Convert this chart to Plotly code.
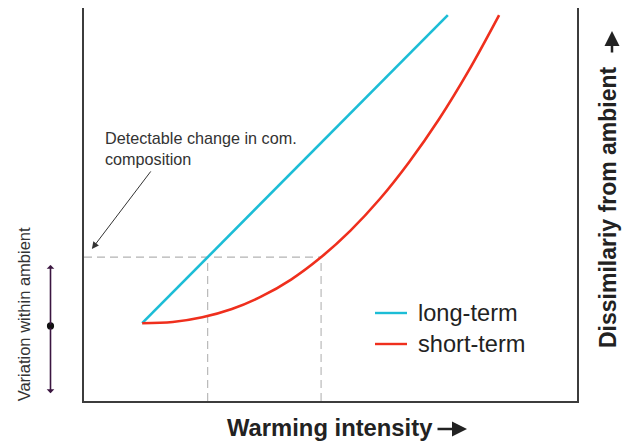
import numpy as np
import plotly.graph_objects as go

# ---- data (arbitrary units) ----
long_x = [11.8, 73.8]
long_y = [19.8, 98.2]

short_x = [11.8, 18, 24, 30, 36, 42, 48, 54, 60, 66, 72, 78, 84.2]
short_y = [19.8, 20.1, 21.3, 23.4, 26.6, 30.9, 36.5, 43.3, 51.4, 60.9, 71.7, 84.0, 98.2]

threshold = 36.6          # detectable change level
ambient_low, ambient_mid, ambient_high = 2.0, 19.1, 34.6

series_names = ["long-term", "short-term"]
colors = ["#1cbdd6", "#ef2f1d"]

# crossings of the threshold
x_long_cross = float(np.interp(threshold, long_y, long_x))
x_short_cross = float(np.interp(threshold, short_y, short_x))

FONT = "Liberation Sans, Arial, sans-serif"

fig = go.Figure()
fig.add_trace(go.Scatter(x=long_x, y=long_y, mode="lines", name=series_names[0],
                         line=dict(color=colors[0], width=2.6)))
fig.add_trace(go.Scatter(x=short_x, y=short_y, mode="lines", name=series_names[1],
                         line=dict(color=colors[1], width=2.6, shape="spline", smoothing=1.0)))

dash = dict(color="#b3b3b3", width=1.1, dash="8px,5px")
fig.add_shape(type="line", x0=0, x1=x_short_cross, y0=threshold, y1=threshold, line=dash, layer="below")
fig.add_shape(type="line", x0=x_long_cross, x1=x_long_cross, y0=0, y1=threshold, line=dash, layer="below")
fig.add_shape(type="line", x0=x_short_cross, x1=x_short_cross, y0=0, y1=threshold, line=dash, layer="below")

# ambient variation bar (left of the plot, paper x)
bar_x = (50.5 - 84) / 493
dot_r_px = 3.6
fig.add_shape(type="circle", xref="paper", yref="y",
              x0=bar_x - dot_r_px / 493, x1=bar_x + dot_r_px / 493,
              y0=ambient_mid - dot_r_px / 3.93, y1=ambient_mid + dot_r_px / 3.93,
              fillcolor="#111111", line=dict(width=0))

ann = []

# legend drawn by hand (line samples + labels)
leg_rows_px = [313, 344]
for name, col, ypx in zip(series_names, colors, leg_rows_px):
    yp = (401 - ypx) / 393
    fig.add_shape(type="line", xref="paper", yref="paper",
                  x0=(375 - 84) / 493, x1=(407 - 84) / 493, y0=yp, y1=yp,
                  line=dict(color=col, width=2.4))
    ann.append(dict(x=(416 - 84) / 493, y=yp, xref="paper", yref="paper", xanchor="left",
                    yanchor="middle", text=name, showarrow=False,
                    font=dict(family=FONT, size=23.6, color="#222222")))

# detectable change annotation
ann.append(dict(x=3.9, y=69.7, xref="x", yref="y", xanchor="left", yanchor="top", align="left",
                text="Detectable change in com.<br>composition", showarrow=False,
                font=dict(family=FONT, size=16.2, color="#333333")))
ann.append(dict(x=1.6, y=38.7, xref="x", yref="y", text="", showarrow=True, ax=60, ay=-79,
                arrowhead=2, arrowsize=1.4, arrowwidth=1, arrowcolor="#333333"))
# ambient variation arrows
ann.append(dict(x=bar_x, y=ambient_high, xref="paper", yref="y", text="", showarrow=True, ax=0, ay=61,
                arrowhead=1, arrowsize=0.8, arrowwidth=1.6, arrowcolor="#3b1640"))
ann.append(dict(x=bar_x, y=ambient_low, xref="paper", yref="y", text="", showarrow=True, ax=0, ay=-67,
                arrowhead=1, arrowsize=0.8, arrowwidth=1.6, arrowcolor="#3b1640"))
ann.append(dict(x=-0.122, y=(401 - 314.5) / 393, xref="paper", yref="paper", text="Variation within ambient",
                textangle=-90, showarrow=False, xanchor="center", yanchor="middle",
                font=dict(family=FONT, size=16.5, color="#333333")))
# x title
ann.append(dict(x=(225 - 84) / 493, y=(401 - 427) / 393, xref="paper", yref="paper", xanchor="left",
                yanchor="middle", text="<b>Warming intensity</b>", showarrow=False,
                font=dict(family=FONT, size=23.8, color="#222222")))
ann.append(dict(x=(467 - 84) / 493, y=(401 - 429) / 393, xref="paper", yref="paper", text="",
                showarrow=True, ax=-31, ay=0, arrowhead=2, arrowsize=1.2, arrowwidth=2.5,
                arrowcolor="#222222"))
# right title
ann.append(dict(x=(608 - 84) / 493, y=(401 - 207) / 393, xref="paper", yref="paper", xanchor="center",
                yanchor="middle", text="<b>Dissimilariy from ambient</b>", textangle=-90, showarrow=False,
                font=dict(family=FONT, size=23, color="#222222")))
ann.append(dict(x=(612 - 84) / 493, y=(401 - 31) / 393, xref="paper", yref="paper", text="",
                showarrow=True, ax=0, ay=23, arrowhead=2, arrowsize=1.2, arrowwidth=2.5,
                arrowcolor="#222222"))

fig.update_layout(
    width=625, height=443,
    margin=dict(l=84, r=48, t=8, b=42),
    paper_bgcolor="white", plot_bgcolor="white",
    font=dict(family=FONT, color="#222222"),
    xaxis=dict(range=[0, 100], showgrid=False, zeroline=False, showticklabels=False, ticks="",
               showline=True, linecolor="#3c3c3c", linewidth=1.6, mirror=False, fixedrange=True),
    yaxis=dict(range=[0, 100], showgrid=False, zeroline=False, showticklabels=False, ticks="",
               showline=True, linecolor="#3c3c3c", linewidth=1.6, mirror=True, fixedrange=True),
    annotations=ann,
    showlegend=False,
)

fig.write_html("out.html")
